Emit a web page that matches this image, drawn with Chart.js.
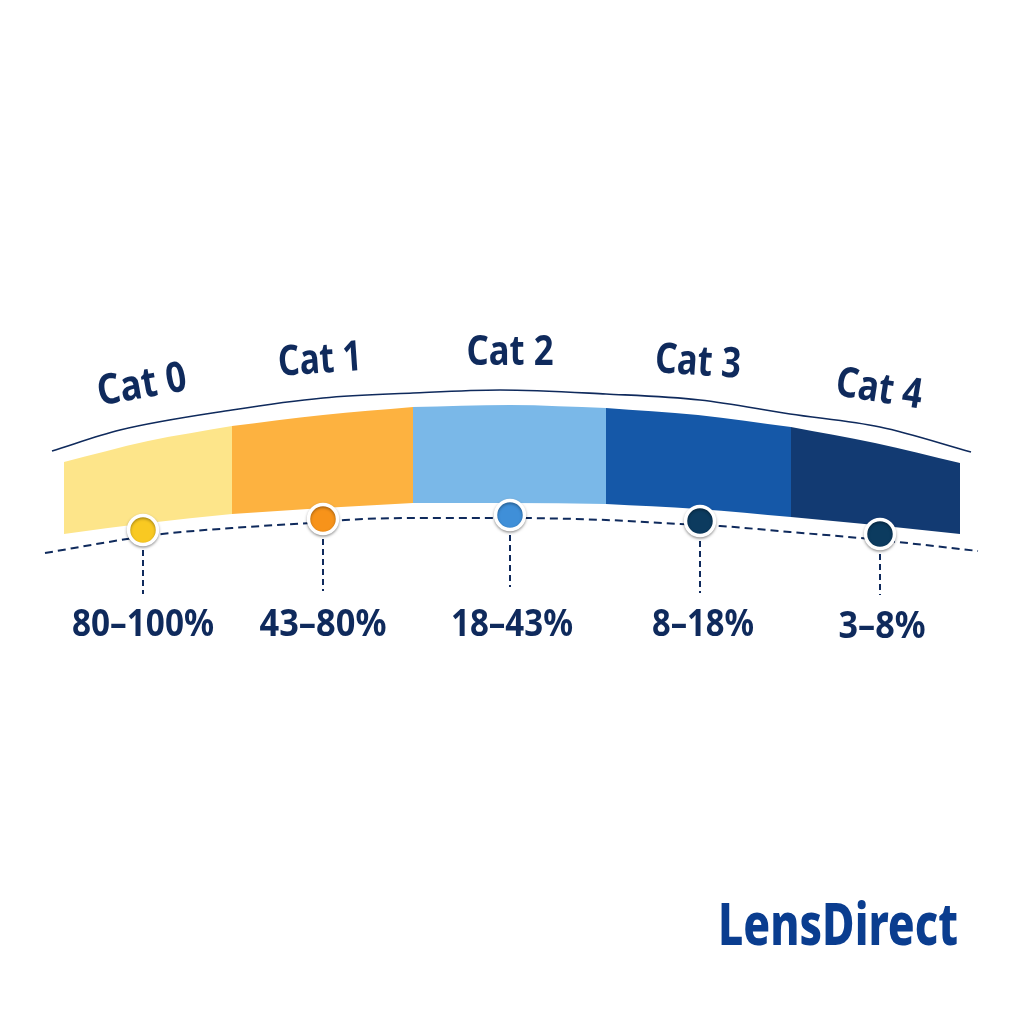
<!DOCTYPE html>
<html>
<head>
<meta charset="utf-8">
<style>html,body{margin:0;padding:0;background:#fff}canvas{display:block}</style>
<script src="https://cdn.jsdelivr.net/npm/chart.js@4"></script>
</head>
<body>
<canvas id="c" width="1024" height="1024"></canvas>
<script>
const categories = ["Cat 0","Cat 1","Cat 2","Cat 3","Cat 4"];
const ranges = ["80–100%","43–80%","18–43%","8–18%","3–8%"];
const brand = "LensDirect";

const bandX      = [64,148,232,323,413,510,606,698,791,875,960];
const bandTop    = [462,441,426,415,407,405,408,415,427,443,463];
const bandBottom = [534,523,514,508,503,503,504,509,517,525,534];

const arcX = [52,120,232,323,413,500,606,700,790,880,971];
const arcY = [451,430,410,398,393,390,394,400,414,427,452];

const dashX = [45,127,162,232,323,345,413,510,606,680,720,790,860,898,978];
const dashY = [553,539,534,528,522,520,518,518,520,524,526,532,538,542,551];

const markerX = [143,323,510,700,880];
const markerY = [530,519,515,521,534];
const stemEnd = [594,591,587,593,595];

const catY = [386,361,353,363,390];
const catX = [142,320,510,698,879];
const catTilt = [-10,-4,0,4,9];
const catWidth = [90,84,87,86,87];
const rangeX = [143,323,512,703,882];
const rangeY = [625,625,625,625,627];
const rangeWidth = [142,127,122,102,87];

const bandColors = ["#FDE58A","#FDB240","#7AB8E8","#1558A8","#123A72"];
const markerColors = ["#F9C922","#F7931A","#3F8FD8","#0C3B5F","#0C3B5F"];
const navy = "#0F2A5C";
const pts = (xs, ys) => xs.map((x, i) => ({x, y: ys[i]}));
const base = {pointRadius: 0, cubicInterpolationMode: "monotone"};

const datasets = [];
datasets.push({id: "markers", data: pts(markerX, markerY), showLine: false,
  pointRadius: 14.5, pointBorderWidth: 3.5, pointBorderColor: "#fff",
  pointBackgroundColor: markerColors});
markerX.forEach((x, i) => datasets.push({data: [{x, y: markerY[i]}, {x, y: stemEnd[i]}],
  pointRadius: 0, borderColor: navy, borderWidth: 2, borderDash: [6, 4]}));
datasets.push({...base, data: pts(dashX, dashY), borderColor: navy, borderWidth: 2, borderDash: [8, 5]});
datasets.push({...base, data: pts(arcX, arcY), borderColor: navy, borderWidth: 1.6});
categories.forEach((c, i) => {
  const s = i * 2, e = s + 3;
  datasets.push({...base, label: c, data: pts(bandX.slice(s, e), bandTop.slice(s, e)),
    borderWidth: 0, borderColor: "transparent", backgroundColor: bandColors[i],
    fill: "+1"});
  datasets.push({...base, data: pts(bandX.slice(s, e), bandBottom.slice(s, e)),
    borderWidth: 0, borderColor: "transparent", fill: false});
});

function fitText(ctx, text, x, y, font, width, color, tilt) {
  ctx.save();
  ctx.font = font;
  ctx.fillStyle = color;
  ctx.textAlign = "center";
  ctx.textBaseline = "middle";
  ctx.translate(x, y);
  ctx.rotate((tilt || 0) * Math.PI / 180);
  ctx.scale(width / ctx.measureText(text).width, 1);
  ctx.fillText(text, 0, 0);
  ctx.restore();
}

const overlay = {
  id: "overlay",
  beforeDatasetDraw(chart, args) {
    if (args.index === 0) {
      chart.ctx.save();
      chart.ctx.shadowColor = "rgba(0,0,0,0.35)";
      chart.ctx.shadowBlur = 3;
      chart.ctx.shadowOffsetY = 1.5;
    }
  },
  afterDatasetDraw(chart, args) {
    if (args.index === 0) chart.ctx.restore();
  },
  afterDraw(chart) {
    const {ctx, scales: {x, y}} = chart;
    categories.forEach((t, i) => fitText(ctx, t, x.getPixelForValue(catX[i]), y.getPixelForValue(catY[i]),
      "700 42px 'Noto Sans'", catWidth[i], navy, catTilt[i]));
    ranges.forEach((t, i) => fitText(ctx, t, x.getPixelForValue(rangeX[i]), y.getPixelForValue(rangeY[i]),
      "700 38px 'Noto Sans'", rangeWidth[i], navy));
    fitText(ctx, brand, x.getPixelForValue(838), y.getPixelForValue(928),
      "800 58px 'Noto Sans'", 240, "#0A3D8F");
  }
};

new Chart(document.getElementById("c"), {
  type: "line",
  data: {datasets},
  plugins: [overlay],
  options: {
    responsive: false,
    devicePixelRatio: 1,
    animation: false,
    parsing: false,
    layout: {padding: 0, autoPadding: false},
    plugins: {legend: {display: false}, tooltip: {enabled: false}},
    scales: {
      x: {type: "linear", min: 0, max: 1024, display: false},
      y: {type: "linear", min: 0, max: 1024, reverse: true, display: false}
    }
  }
});
</script>
</body>
</html>
